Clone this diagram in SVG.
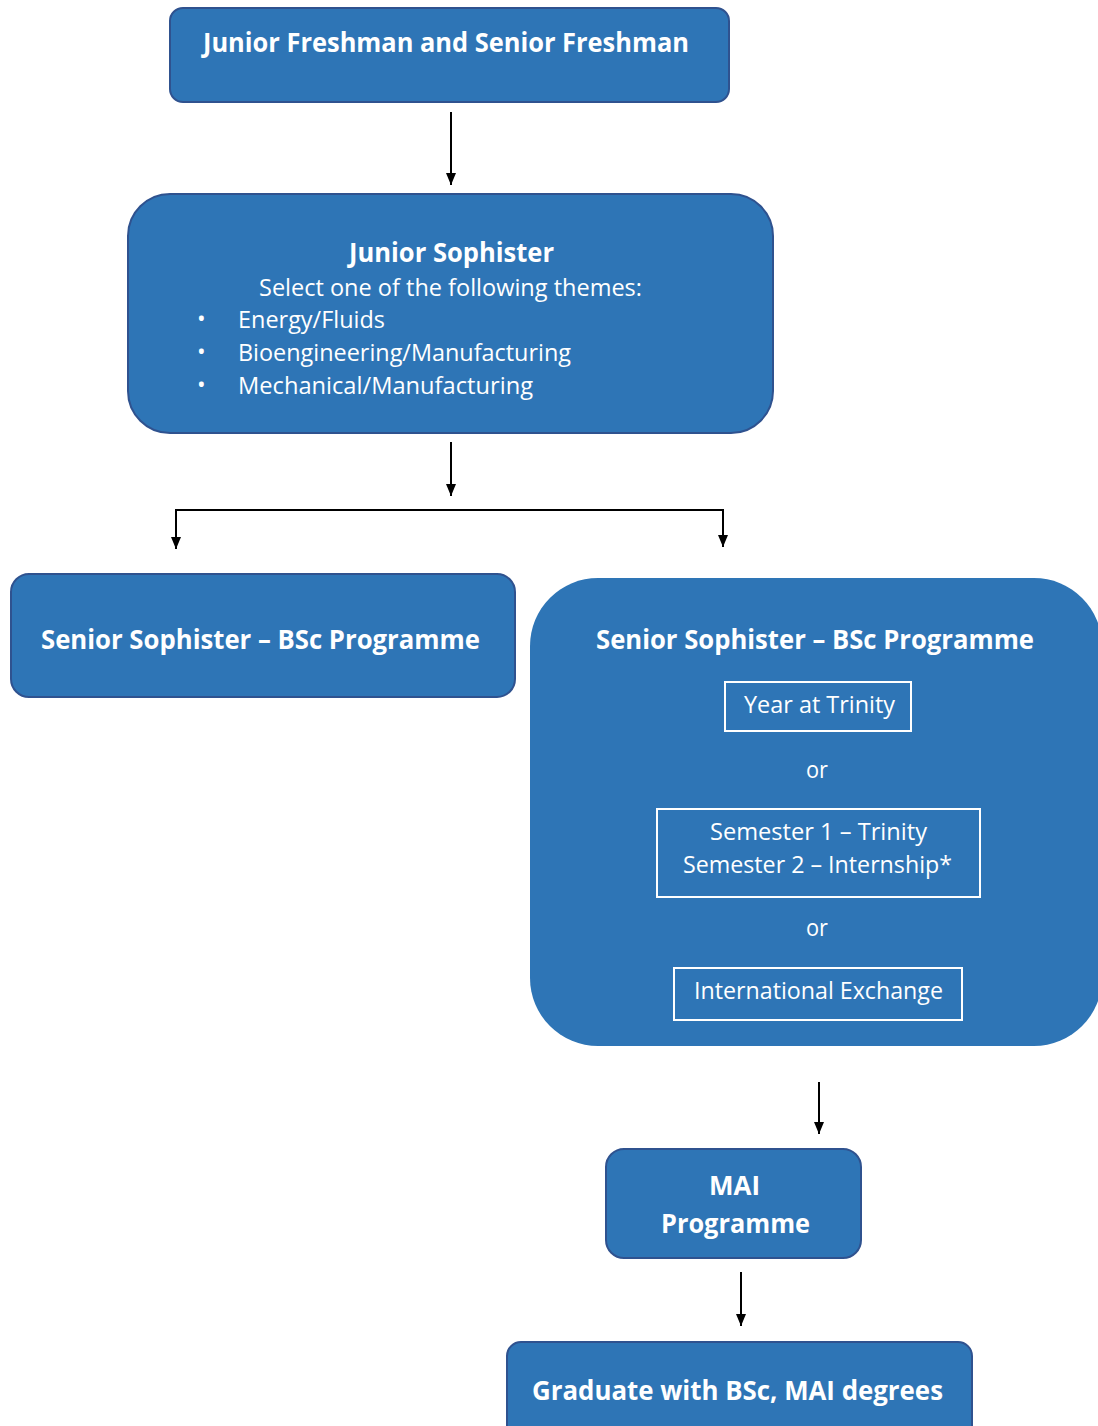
<svg xmlns="http://www.w3.org/2000/svg" width="1098" height="1426" viewBox="0 0 1098 1426">
<defs>
<marker id="ah" viewBox="0 0 12 10" refX="12" refY="5" markerWidth="12" markerHeight="10" markerUnits="userSpaceOnUse" orient="auto-start-reverse">
<path d="M0,0 L12,5 L0,10 Z" fill="#000"/>
</marker>
</defs>
<style>
.box{fill:#2E75B6;stroke:#2F528F;stroke-width:2}
.big{fill:#2E75B6}
.inner{fill:none;stroke:#FFFFFF;stroke-width:2}
.b{font-family:"Open Sans","Noto Sans",sans-serif;font-weight:bold;font-size:26px;fill:#FFFFFF}
.r{font-family:"Open Sans","Noto Sans",sans-serif;font-size:23px;fill:#FFFFFF}
.conn{fill:none;stroke:#000;stroke-width:2}
</style>
<rect width="1098" height="1426" fill="#FFFFFF"/>
<g id="connectors">
<path class="conn" d="M451,112 V185" marker-end="url(#ah)"/>
<path class="conn" d="M451,442 V496" marker-end="url(#ah)"/>
<path class="conn" d="M176,549 V510 H723 V547" marker-start="url(#ah)" marker-end="url(#ah)"/>
<path class="conn" d="M819,1082 V1134" marker-end="url(#ah)"/>
<path class="conn" d="M741,1272 V1326" marker-end="url(#ah)"/>
</g>
<g id="node-freshman">
<rect class="box" x="170" y="8" width="559" height="94" rx="13"/>
<text class="b" x="203" y="52" textLength="486" lengthAdjust="spacingAndGlyphs">Junior Freshman and Senior Freshman</text>
</g>
<g id="node-junior-sophister">
<rect class="box" x="128" y="194" width="645" height="239" rx="42"/>
<text class="b" x="349" y="262" textLength="205" lengthAdjust="spacingAndGlyphs">Junior Sophister</text>
<text class="r" x="259" y="296" textLength="383" lengthAdjust="spacingAndGlyphs">Select one of the following themes:</text>
<text class="r" x="197" y="327">•</text>
<text class="r" x="238" y="328" textLength="147" lengthAdjust="spacingAndGlyphs">Energy/Fluids</text>
<text class="r" x="197" y="360">•</text>
<text class="r" x="238" y="361" textLength="333" lengthAdjust="spacingAndGlyphs">Bioengineering/Manufacturing</text>
<text class="r" x="197" y="393">•</text>
<text class="r" x="238" y="394" textLength="295" lengthAdjust="spacingAndGlyphs">Mechanical/Manufacturing</text>
</g>
<g id="node-senior-bsc">
<rect class="box" x="11" y="574" width="504" height="123" rx="18"/>
<text class="b" x="41" y="649" textLength="439" lengthAdjust="spacingAndGlyphs">Senior Sophister – BSc Programme</text>
</g>
<g id="node-senior-options">
<rect class="big" x="530" y="578" width="572" height="468" rx="68"/>
<text class="b" x="596" y="649" textLength="438" lengthAdjust="spacingAndGlyphs">Senior Sophister – BSc Programme</text>
<rect class="inner" x="725" y="682" width="186" height="49"/>
<text class="r" x="744" y="713" textLength="151" lengthAdjust="spacingAndGlyphs">Year at Trinity</text>
<text class="r" x="806" y="778" textLength="22" lengthAdjust="spacingAndGlyphs">or</text>
<rect class="inner" x="657" y="809" width="323" height="88"/>
<text class="r" x="710" y="840" textLength="217" lengthAdjust="spacingAndGlyphs">Semester 1 – Trinity</text>
<text class="r" x="683" y="873" textLength="269" lengthAdjust="spacingAndGlyphs">Semester 2 – Internship*</text>
<text class="r" x="806" y="936" textLength="22" lengthAdjust="spacingAndGlyphs">or</text>
<rect class="inner" x="674" y="968" width="288" height="52"/>
<text class="r" x="694" y="999" textLength="249" lengthAdjust="spacingAndGlyphs">International Exchange</text>
</g>
<g id="node-mai">
<rect class="box" x="606" y="1149" width="255" height="109" rx="18"/>
<text class="b" x="709" y="1195" textLength="51" lengthAdjust="spacingAndGlyphs">MAI</text>
<text class="b" x="661" y="1233" textLength="149" lengthAdjust="spacingAndGlyphs">Programme</text>
</g>
<g id="node-graduate">
<rect class="box" x="507" y="1342" width="465" height="100" rx="14"/>
<text class="b" x="532" y="1400" textLength="411" lengthAdjust="spacingAndGlyphs">Graduate with BSc, MAI degrees</text>
</g>
</svg>
